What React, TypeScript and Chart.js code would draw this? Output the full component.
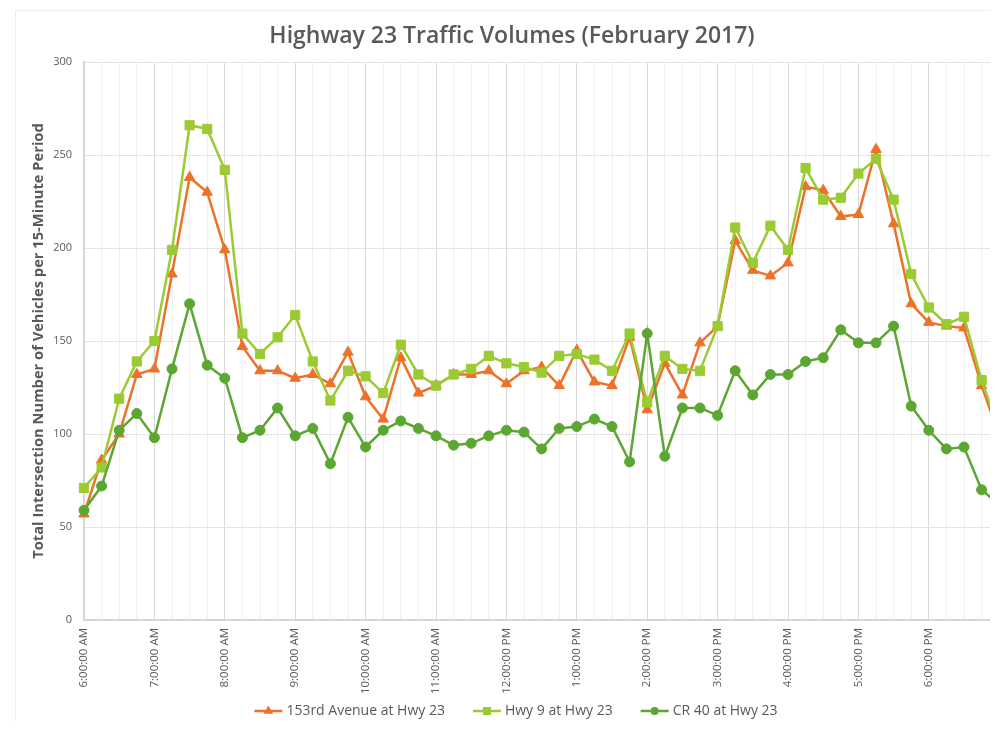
import React, { useEffect, useRef } from "react";
import { Chart, registerables } from "chart.js";

Chart.register(...registerables);

// ---------------- data ----------------
const timeLabels = [
  "6:00:00 AM", "6:15:00 AM", "6:30:00 AM", "6:45:00 AM",
  "7:00:00 AM", "7:15:00 AM", "7:30:00 AM", "7:45:00 AM",
  "8:00:00 AM", "8:15:00 AM", "8:30:00 AM", "8:45:00 AM",
  "9:00:00 AM", "9:15:00 AM", "9:30:00 AM", "9:45:00 AM",
  "10:00:00 AM", "10:15:00 AM", "10:30:00 AM", "10:45:00 AM",
  "11:00:00 AM", "11:15:00 AM", "11:30:00 AM", "11:45:00 AM",
  "12:00:00 PM", "12:15:00 PM", "12:30:00 PM", "12:45:00 PM",
  "1:00:00 PM", "1:15:00 PM", "1:30:00 PM", "1:45:00 PM",
  "2:00:00 PM", "2:15:00 PM", "2:30:00 PM", "2:45:00 PM",
  "3:00:00 PM", "3:15:00 PM", "3:30:00 PM", "3:45:00 PM",
  "4:00:00 PM", "4:15:00 PM", "4:30:00 PM", "4:45:00 PM",
  "5:00:00 PM", "5:15:00 PM", "5:30:00 PM", "5:45:00 PM",
  "6:00:00 PM", "6:15:00 PM", "6:30:00 PM", "6:45:00 PM",
  "7:00:00 PM",
];

const avenue153 = [
  57, 86, 100, 132, 135, 186, 238, 230, 199, 147, 134, 134, 130,
  132, 127, 144, 120, 108, 141, 122, 126, 132, 132, 134, 127, 134,
  136, 126, 145, 128, 126, 152, 113, 138, 121, 149, 158, 204, 188,
  185, 192, 233, 231, 217, 218, 253, 213, 170, 160, 158, 157, 126, 99,
];

const hwy9 = [
  71, 82, 119, 139, 150, 199, 266, 264, 242, 154, 143, 152, 164,
  139, 118, 134, 131, 122, 148, 132, 126, 132, 135, 142, 138, 136,
  133, 142, 143, 140, 134, 154, 117, 142, 135, 134, 158, 211, 192,
  212, 199, 243, 226, 227, 240, 248, 226, 186, 168, 159, 163, 129, 102,
];

const cr40 = [
  59, 72, 102, 111, 98, 135, 170, 137, 130, 98, 102, 114, 99,
  103, 84, 109, 93, 102, 107, 103, 99, 94, 95, 99, 102, 101,
  92, 103, 104, 108, 104, 85, 154, 88, 114, 114, 110, 134, 121,
  132, 132, 139, 141, 156, 149, 149, 158, 115, 102, 92, 93, 70, 62,
];

const seriesNames = ["153rd Avenue at Hwy 23", "Hwy 9 at Hwy 23", "CR 40 at Hwy 23"];
const chartTitle = "Highway 23 Traffic Volumes (February 2017)";
const yAxisTitle = "Total Intersection Number of Vehicles per 15-Minute Period";

// ---------------- style ----------------
const ORANGE = "#EE7128";
const LIGHT = "#9BCB33";
const DARK = "#5CA632";
const TEXT = "#595959";
const FONT = "'Open Sans', 'DejaVu Sans', sans-serif";

const CW = 1006;
const CH = 711;

function drawMarker(ctx: CanvasRenderingContext2D, style: string, x: number, y: number, color: string) {
  ctx.fillStyle = color;
  ctx.beginPath();
  if (style === "triangle") {
    const r = 5.5;
    ctx.moveTo(x, y - r);
    ctx.lineTo(x + r * 0.866, y + r * 0.5);
    ctx.lineTo(x - r * 0.866, y + r * 0.5);
    ctx.closePath();
  } else if (style === "rect") {
    ctx.rect(x - 4, y - 4, 8, 8);
  } else {
    ctx.arc(x, y, 4, 0, Math.PI * 2);
  }
  ctx.fill();
}

const decorPlugin = {
  id: "decor",
  afterDraw(chart: any) {
    const ctx: CanvasRenderingContext2D = chart.ctx;
    ctx.save();
    // frame
    ctx.strokeStyle = "#eeeeee";
    ctx.lineWidth = 1;
    ctx.beginPath();
    ctx.moveTo(0.5, CH);
    ctx.lineTo(0.5, 0.5);
    ctx.lineTo(CW, 0.5);
    ctx.stroke();

    // title
    ctx.fillStyle = TEXT;
    ctx.font = `600 23px ${FONT}`;
    ctx.textAlign = "center";
    ctx.textBaseline = "middle";
    ctx.fillText(chartTitle, 497, 26);

    // legend
    ctx.font = `14px ${FONT}`;
    ctx.textAlign = "left";
    const lineW = 28;
    const gapText = 4;
    const gapItem = 28;
    const items = chart.data.datasets.map((ds: any) => ({
      label: ds.label,
      color: ds.borderColor,
      style: ds.pointStyle,
      w: ctx.measureText(ds.label).width,
    }));
    let total = 0;
    items.forEach((it: any, i: number) => {
      total += lineW + gapText + it.w + (i < items.length - 1 ? gapItem : 0);
    });
    let x = 501 - total / 2;
    const ly = 701;
    items.forEach((it: any) => {
      ctx.strokeStyle = it.color;
      ctx.lineWidth = 2.5;
      ctx.beginPath();
      ctx.moveTo(x, ly);
      ctx.lineTo(x + lineW, ly);
      ctx.stroke();
      drawMarker(ctx, it.style, x + lineW / 2, ly, it.color);
      ctx.fillStyle = TEXT;
      ctx.fillText(it.label, x + lineW + gapText, ly);
      x += lineW + gapText + it.w + gapItem;
    });
    ctx.restore();
  },
};

export default function App() {
  const ref = useRef<HTMLCanvasElement | null>(null);

  useEffect(() => {
    document.documentElement.style.overflow = "hidden";
    document.body.style.overflow = "hidden";
    if (!ref.current) return;
    const mk = (label: string, data: number[], color: string, style: string, radius: number, order: number) => ({
      label,
      data,
      borderColor: color,
      backgroundColor: color,
      pointBackgroundColor: color,
      pointBorderColor: color,
      pointBorderWidth: 1,
      pointStyle: style,
      pointRadius: radius,
      borderWidth: 2.5,
      tension: 0,
      clip: false as any,
      order,
    });

    const chart = new Chart(ref.current, {
      type: "line",
      data: {
        labels: timeLabels,
        datasets: [
          mk(seriesNames[0], avenue153, ORANGE, "triangle", 6, 2),
          mk(seriesNames[1], hwy9, LIGHT, "rect", 6.5, 1),
          mk(seriesNames[2], cr40, DARK, "circle", 5, 0),
        ],
      },
      options: {
        animation: false,
        responsive: false,
        devicePixelRatio: 1,
        layout: { padding: { top: 52, left: 0, right: 6, bottom: 11 } },
        plugins: {
          legend: { display: false },
          title: { display: false },
          tooltip: { enabled: false },
        },
        scales: {
          x: {
            type: "category",
            offset: false,
            afterFit: (scale: any) => {
              scale.height = 90;
            },
            grid: {
              drawTicks: false,
              color: (c: any) => (c.index % 4 === 0 ? "#dadada" : "#f0f0f0"),
              lineWidth: 1,
            },
            border: { display: true, color: "#d6d6d6", width: 2 },
            ticks: {
              autoSkip: false,
              minRotation: 90,
              maxRotation: 90,
              padding: 8,
              color: TEXT,
              font: { family: FONT, size: 11.5 },
              callback: function (this: any, _v: any, i: number) {
                return i % 4 === 0 ? timeLabels[i] : "";
              },
            },
          },
          y: {
            min: 0,
            max: 300,
            afterFit: (scale: any) => {
              scale.width = 69;
            },
            grid: { drawTicks: false, color: "#e4e4e4", lineWidth: 1 },
            border: { display: true, color: "#d6d6d6", width: 2 },
            ticks: {
              stepSize: 50,
              padding: 12,
              color: TEXT,
              font: { family: FONT, size: 11 },
            },
            title: {
              display: true,
              text: yAxisTitle,
              color: TEXT,
              font: { family: FONT, size: 14.7, weight: "bold" },
              padding: { top: 15, bottom: 0 },
            },
          },
        },
      },
      plugins: [decorPlugin],
    });
    return () => chart.destroy();
  }, []);

  return (
    <div style={{ position: "relative", height: 713, background: "#fff" }}>
      <canvas
        ref={ref}
        width={CW}
        height={CH}
        style={{ position: "absolute", left: 7, top: 2, width: CW, height: CH }}
      />
    </div>
  );
}
